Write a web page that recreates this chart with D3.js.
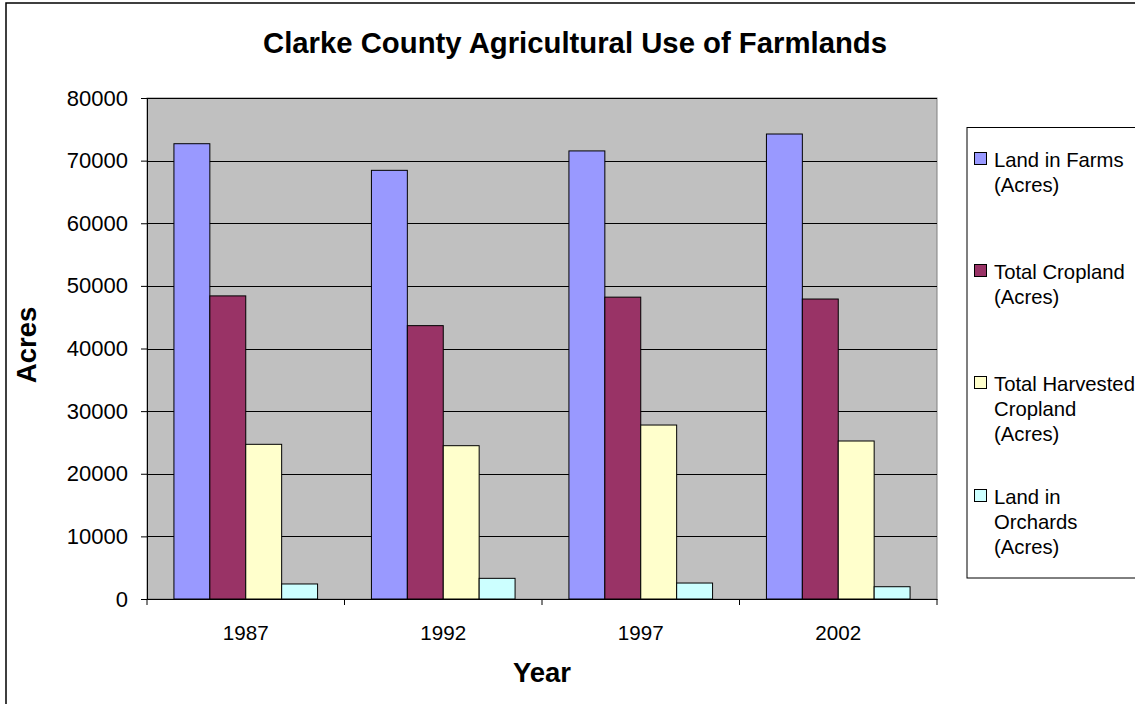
<!DOCTYPE html>
<html><head><meta charset="utf-8">
<script src="https://cdn.jsdelivr.net/npm/d3@7"></script>
<style>body{margin:0;background:#fff}svg{display:block;font-family:"Liberation Sans",Arial,sans-serif}</style>
</head><body>
<svg id="c" width="1135" height="704"></svg>
<script>
const years = ["1987","1992","1997","2002"];
const seriesNames = ["Land in Farms (Acres)","Total Cropland (Acres)","Total Harvested Cropland (Acres)","Land in Orchards (Acres)"];
const legendLines = [["Land in Farms","(Acres)"],["Total Cropland","(Acres)"],["Total Harvested","Cropland","(Acres)"],["Land in","Orchards","(Acres)"]];
const landInFarms = [72700, 68450, 71550, 74250];
const totalCropland = [48400, 43650, 48200, 47900];
const harvestedCropland = [24700, 24480, 27780, 25230];
const orchards = [2400, 3300, 2550, 1960];
const yTicks = [0,10000,20000,30000,40000,50000,60000,70000,80000];
const colors = ["#9999FF","#993366","#FFFFCC","#CCFFFF"];
const series = [landInFarms, totalCropland, harvestedCropland, orchards];

const svg = d3.select("#c");
const L=147, R=937, T=98, B=599;
const FF = "Liberation Sans, Arial, sans-serif";

svg.append("rect").attr("x",6).attr("y",3).attr("width",1140).attr("height",710)
  .attr("fill","none").attr("stroke","#000").attr("stroke-width",1.5);

const x0 = d3.scaleBand().domain(years).range([L,R]);
const x1 = d3.scaleBand().domain(d3.range(4)).range([0,x0.bandwidth()]).paddingOuter(0.75).paddingInner(0);
const y = d3.scaleLinear().domain([0,80000]).range([B,T]);

svg.append("rect").attr("x",L).attr("y",T).attr("width",R-L).attr("height",B-T)
  .attr("fill","#C0C0C0").attr("stroke","#808080").attr("stroke-width",1);

svg.append("g").selectAll("line").data(yTicks.filter(d=>d>0)).join("line")
  .attr("x1",L).attr("x2",R).attr("y1",d=>Math.round(y(d))+0.5).attr("y2",d=>Math.round(y(d))+0.5)
  .attr("stroke","#000").attr("stroke-width",1);

const g = svg.append("g");
series.forEach((vals,si)=>{
  g.selectAll(null).data(years).join("rect")
    .attr("x",d=>x0(d)+x1(si)).attr("width",x1.bandwidth())
    .attr("y",(d,i)=>y(vals[i])).attr("height",(d,i)=>B-y(vals[i]))
    .attr("fill",colors[si]).attr("stroke","#000").attr("stroke-width",1);
});

// Y axis
const ya = svg.append("g").attr("transform",`translate(${L},0)`)
  .call(d3.axisLeft(y).tickValues(yTicks).tickFormat(d3.format("d")).tickSize(6).tickPadding(13));
ya.select(".domain").attr("stroke","#000");
ya.selectAll("text").attr("font-size",22).attr("fill","#000").attr("font-family",FF);

// X axis
const xa = svg.append("g").attr("transform",`translate(0,${B})`)
  .call(d3.axisBottom(x0).tickSize(0).tickPadding(26));
xa.select(".domain").attr("stroke","#000");
xa.selectAll("text").attr("font-size",20.6).attr("fill","#000").attr("font-family",FF);
svg.append("g").selectAll("line").data(years.concat(["end"])).join("line")
  .attr("x1",(d,i)=>i<4?x0(d):R).attr("x2",(d,i)=>i<4?x0(d):R)
  .attr("y1",B).attr("y2",B+6).attr("stroke","#000");

// Title & labels
svg.append("text").attr("x",575).attr("y",53).attr("text-anchor","middle")
  .attr("font-size",29.3).attr("font-weight","bold").text("Clarke County Agricultural Use of Farmlands");
svg.append("text").attr("x",542).attr("y",682).attr("text-anchor","middle")
  .attr("font-size",27.5).attr("font-weight","bold").text("Year");
svg.append("text").attr("transform","translate(36,345) rotate(-90)").attr("text-anchor","middle")
  .attr("font-size",27.5).attr("font-weight","bold").text("Acres");

// Legend
svg.append("rect").attr("x",967).attr("y",127.5).attr("width",200).attr("height",450.5)
  .attr("fill","#fff").attr("stroke","#000").attr("stroke-width",1);
const legY = [159,271,383,496];
legendLines.forEach((lines,i)=>{
  svg.append("rect").attr("x",974.5).attr("y",legY[i]-6.5).attr("width",12).attr("height",12)
    .attr("fill",colors[i]).attr("stroke","#000").attr("stroke-width",1);
  lines.forEach((ln,j)=>{
    svg.append("text").attr("x",994).attr("y",legY[i]+j*25+8).attr("font-size",20.3).text(ln);
  });
});
</script>
</body></html>
